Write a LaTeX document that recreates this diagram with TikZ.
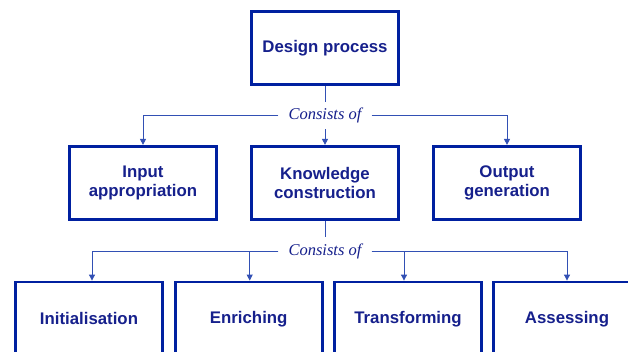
\documentclass[tikz,border=0pt]{standalone}
\usepackage{fontspec}
\setmainfont{Liberation Sans}
\newfontfamily\labelfont{Liberation Serif}
\usetikzlibrary{arrows.meta,positioning}
\definecolor{boxblue}{RGB}{0,32,160}
\definecolor{textblue}{RGB}{22,32,140}
\definecolor{lineblue}{RGB}{50,80,180}
\tikzset{
    block/.style  = {draw=boxblue, line width=2.7pt, fill=white,
            minimum width=147pt, minimum height=73.5pt,
            align=center, text=textblue,
            font=\fontsize{16.8}{19.5}\selectfont\bfseries},
    line/.style   = {draw=lineblue, line width=0.9pt},
    arrow/.style  = {line, -{Triangle[length=6pt,width=6pt]}},
    consists/.style = {fill=white, text=textblue, inner xsep=10pt, inner ysep=6pt,
            font=\labelfont\itshape\fontsize{16.5}{19}\selectfont},
}
\begin{document}
\begin{tikzpicture}[x=1pt,y=-1pt]
    \useasboundingbox (0,0) rectangle (628,352);
    % top level
    \node[block] (design) at (325,48) {Design process};
    \node[consists] (cons1) at (325,115.5) {Consists of};
    % second level
    \node[block] (input) at (143,183) {Input\\appropriation};
    \node[block] (knowledge) at (325,183) {Knowledge\\construction};
    \node[block] (output) at (507,183) {Output\\generation};
    \node[consists] (cons2) at (325,251) {Consists of};
    % third level (cut off by the frame)
    \node[block] (init) at (89,318.7) {Initialisation};
    \node[block] (enrich) at (248.7,318.7) {Enriching};
    \node[block] (trans) at (408,318.7) {Transforming};
    \node[block] (assess) at (567,318.7) {Assessing};

    % connectors
    \draw[line] (design) -- (cons1);
    \draw[arrow] (cons1) -- (knowledge);
    \draw[arrow] (cons1.west) -| (input);
    \draw[arrow] (cons1.east) -| (output);
    \draw[line] (knowledge) -- (cons2);
    \draw[arrow] (cons2.west) -| ([xshift=3pt]init.north);
    \draw[arrow] (cons2.west) -| ([xshift=1pt]enrich.north);
    \draw[arrow] (cons2.east) -| ([xshift=-4pt]trans.north);
    \draw[arrow] (cons2.east) -| (assess);
\end{tikzpicture}
\end{document}
